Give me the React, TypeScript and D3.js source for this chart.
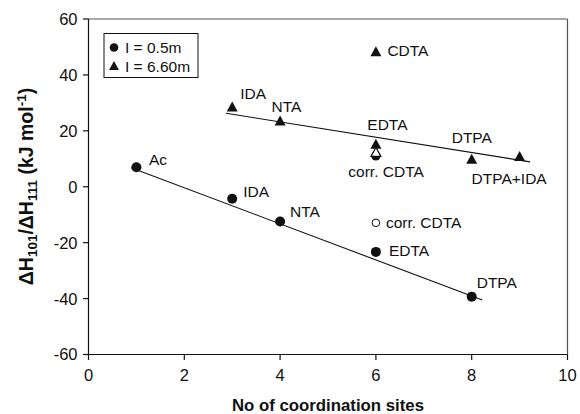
import React from "react";
import * as d3 from "d3";

const xTicks = [0, 2, 4, 6, 8, 10];
const yTicks = [-60, -40, -20, 0, 20, 40, 60];

// I = 0.5m (filled circles)
const circleX = [1, 3, 4, 6, 8];
const circleY = [7.0, -4.3, -12.4, -23.3, -39.3];
const circleLabels = ["Ac", "IDA", "NTA", "EDTA", "DTPA"];
const circleLabelOffsets: [number, number][] = [[12.5, -2], [11, -1.5], [10, -4], [13, 4.5], [5, -8.5]];

// I = 6.60m (filled triangles)
const triX = [3, 4, 6, 6, 8, 9];
const triY = [28.5, 23.5, 48.3, 15.2, 9.8, 10.8];
const triLabels = ["IDA", "NTA", "CDTA", "EDTA", "DTPA", "DTPA+IDA"];
const triLabelOffsets: [number, number][] = [[8, -8], [-8.5, -9.5], [11.5, 4.5], [-8.6, -14], [-20, -16.6], [-48, 27]];

// corrected CDTA (open markers) and hidden point under the open triangle
const openCircle = { x: 6, y: -12.9, label: "corr. CDTA" };
const openTriangle = { x: 6, y: 12.3, label: "corr. CDTA" };
const hiddenCircle = { x: 6, y: 11.0 };

// regression lines
const circleFitX = [0.89, 8.22];
const circleFitY = [6.8, -40.5];
const triFitX = [2.87, 9.22];
const triFitY = [26.3, 8.9];

const W = 580;
const H = 414;
const FONT = "'Liberation Sans', Arial, Helvetica, sans-serif";

export default function App() {
  const x = d3.scaleLinear().domain([0, 10]).range([88.5, 567.5]);
  const y = d3.scaleLinear().domain([-60, 60]).range([354.5, 19]);
  const line = d3.line<[number, number]>().x((d) => x(d[0])).y((d) => y(d[1]));
  const tri = (cx: number, cy: number, s: number) =>
    `M${cx},${cy - s * 0.55} L${cx + s * 0.55},${cy + s * 0.45} L${cx - s * 0.55},${cy + s * 0.45} Z`;

  const circleFit: [number, number][] = circleFitX.map((v, i) => [v, circleFitY[i]]);
  const triFit: [number, number][] = triFitX.map((v, i) => [v, triFitY[i]]);
  const LFS = 15.5;

  return (
    <svg width={W} height={H} style={{ position: "absolute", left: 0, top: 0, background: "#fff" }} fontFamily={FONT}>
      <rect x={0} y={0} width={W} height={H} fill="#fff" />
      {/* frame */}
      <line x1={x(0)} x2={x(10)} y1={y(60)} y2={y(60)} stroke="#555" strokeWidth={1.2} />
      <line x1={x(10)} x2={x(10)} y1={y(60)} y2={y(-60)} stroke="#555" strokeWidth={1.2} />
      <line x1={x(0)} x2={x(0)} y1={y(60)} y2={y(-60)} stroke="#111" strokeWidth={1.2} />
      <line x1={x(0)} x2={x(10)} y1={y(-60)} y2={y(-60)} stroke="#111" strokeWidth={1.2} />
      {/* y ticks */}
      {yTicks.map((t) => (
        <g key={"y" + t}>
          <line x1={x(0) - 5.5} x2={x(0)} y1={y(t)} y2={y(t)} stroke="#111" strokeWidth={1.2} />
          <text x={x(0) - 11} y={y(t)} dy="0.36em" textAnchor="end" fontSize={16.5} fill="#111">
            {t}
          </text>
        </g>
      ))}
      {/* x ticks */}
      {xTicks.map((t) => (
        <g key={"x" + t}>
          <line x1={x(t)} x2={x(t)} y1={y(-60)} y2={y(-60) + 5.5} stroke="#111" strokeWidth={1.2} />
          <text x={x(t)} y={381} textAnchor="middle" fontSize={16.5} fill="#111">
            {t}
          </text>
        </g>
      ))}
      {/* axis titles */}
      <text x={328} y={411} textAnchor="middle" fontSize={16.8} fontWeight="bold" fill="#111">
        No of coordination sites
      </text>
      <text transform="translate(33,186.5) rotate(-90)" textAnchor="middle" fontSize={19.5} fontWeight="bold" fill="#111">
        ΔH<tspan fontSize={13.5} dy={4}>101</tspan>
        <tspan dy={-4}>/ΔH</tspan>
        <tspan fontSize={13.5} dy={4}>111</tspan>
        <tspan dy={-4}> (kJ mol</tspan>
        <tspan fontSize={13.5} dy={-7}>-1</tspan>
        <tspan dy={7}>)</tspan>
      </text>
      {/* regression lines */}
      <path d={line(circleFit) || ""} fill="none" stroke="#111" strokeWidth={1.1} />
      <path d={line(triFit) || ""} fill="none" stroke="#111" strokeWidth={1.1} />
      {/* hidden circle under open triangle */}
      <circle cx={x(hiddenCircle.x)} cy={y(hiddenCircle.y)} r={4.6} fill="#111" />
      {/* circles */}
      {circleX.map((v, i) => (
        <g key={"c" + i}>
          <circle cx={x(v)} cy={y(circleY[i])} r={5} fill="#111" />
          <text x={x(v) + circleLabelOffsets[i][0]} y={y(circleY[i]) + circleLabelOffsets[i][1]} fontSize={LFS} fill="#111">
            {circleLabels[i]}
          </text>
        </g>
      ))}
      {/* triangles */}
      {triX.map((v, i) => (
        <g key={"t" + i}>
          <path d={tri(x(v), y(triY[i]), 10)} fill="#111" />
          <text x={x(v) + triLabelOffsets[i][0]} y={y(triY[i]) + triLabelOffsets[i][1]} fontSize={LFS} fill="#111">
            {triLabels[i]}
          </text>
        </g>
      ))}
      {/* open markers */}
      <circle cx={x(openCircle.x)} cy={y(openCircle.y)} r={3.8} fill="#fff" stroke="#111" strokeWidth={1} />
      <text x={x(openCircle.x) + 10} y={y(openCircle.y) + 5} fontSize={LFS} fill="#111">
        {openCircle.label}
      </text>
      <path d={tri(x(openTriangle.x), y(openTriangle.y), 9)} fill="#fff" stroke="#111" strokeWidth={1.2} />
      <text x={x(openTriangle.x) - 27.6} y={y(openTriangle.y) + 24.4} fontSize={LFS} fill="#111">
        {openTriangle.label}
      </text>
      {/* legend */}
      <rect x={104} y={33.5} width={94} height={44} fill="#fff" stroke="#111" strokeWidth={1} />
      <circle cx={114} cy={47.5} r={4.3} fill="#111" />
      <text x={125} y={53} fontSize={LFS} fill="#111">I = 0.5m</text>
      <path d={tri(114, 66, 9)} fill="#111" />
      <text x={125} y={71.5} fontSize={LFS} fill="#111">I = 6.60m</text>
    </svg>
  );
}
